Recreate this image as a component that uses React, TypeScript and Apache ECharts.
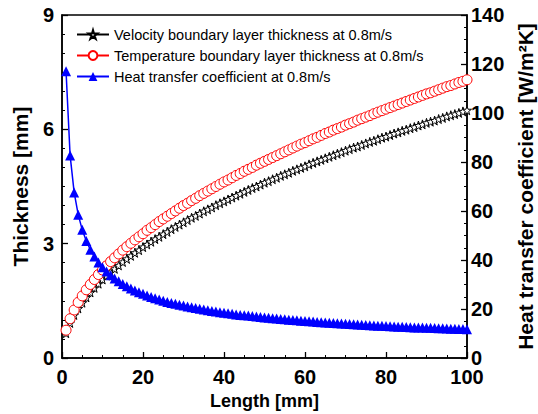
import React, { useEffect, useRef } from "react";
import * as echarts from "echarts";

const lengths = [
  1, 2, 3, 4, 5, 6, 7, 8, 9, 10, 11, 12, 13, 14, 15, 16, 17, 18, 19, 20,
  21, 22, 23, 24, 25, 26, 27, 28, 29, 30, 31, 32, 33, 34, 35, 36, 37, 38, 39, 40,
  41, 42, 43, 44, 45, 46, 47, 48, 49, 50, 51, 52, 53, 54, 55, 56, 57, 58, 59, 60,
  61, 62, 63, 64, 65, 66, 67, 68, 69, 70, 71, 72, 73, 74, 75, 76, 77, 78, 79, 80,
  81, 82, 83, 84, 85, 86, 87, 88, 89, 90, 91, 92, 93, 94, 95, 96, 97, 98, 99, 100,
];

const velocityThickness = [
  0.65, 0.92, 1.13, 1.3, 1.45, 1.59, 1.72, 1.84, 1.95, 2.06, 2.16, 2.25, 2.34, 2.43, 2.52, 2.6, 2.68, 2.76, 2.83, 2.91,
  2.98, 3.05, 3.12, 3.18, 3.25, 3.31, 3.38, 3.44, 3.5, 3.56, 3.62, 3.68, 3.73, 3.79, 3.85, 3.9, 3.95, 4.01, 4.06, 4.11,
  4.16, 4.21, 4.26, 4.31, 4.36, 4.41, 4.46, 4.5, 4.55, 4.6, 4.64, 4.69, 4.73, 4.78, 4.82, 4.86, 4.91, 4.95, 4.99, 5.03,
  5.08, 5.12, 5.16, 5.2, 5.24, 5.28, 5.32, 5.36, 5.4, 5.44, 5.48, 5.52, 5.55, 5.59, 5.63, 5.67, 5.7, 5.74, 5.78, 5.81,
  5.85, 5.89, 5.92, 5.96, 5.99, 6.03, 6.06, 6.1, 6.13, 6.17, 6.2, 6.23, 6.27, 6.3, 6.34, 6.37, 6.4, 6.43, 6.47, 6.5,
];

const temperatureThickness = [
  0.73, 1.03, 1.26, 1.46, 1.63, 1.79, 1.93, 2.06, 2.19, 2.31, 2.42, 2.53, 2.63, 2.73, 2.83, 2.92, 3.01, 3.1, 3.18, 3.26,
  3.35, 3.42, 3.5, 3.58, 3.65, 3.72, 3.79, 3.86, 3.93, 4.0, 4.06, 4.13, 4.19, 4.26, 4.32, 4.38, 4.44, 4.5, 4.56, 4.62,
  4.67, 4.73, 4.79, 4.84, 4.9, 4.95, 5.0, 5.06, 5.11, 5.16, 5.21, 5.26, 5.31, 5.36, 5.41, 5.46, 5.51, 5.56, 5.61, 5.65,
  5.7, 5.75, 5.79, 5.84, 5.89, 5.93, 5.98, 6.02, 6.06, 6.11, 6.15, 6.19, 6.24, 6.28, 6.32, 6.36, 6.41, 6.45, 6.49, 6.53,
  6.57, 6.61, 6.65, 6.69, 6.73, 6.77, 6.81, 6.85, 6.89, 6.93, 6.96, 7.0, 7.04, 7.08, 7.12, 7.15, 7.19, 7.23, 7.26, 7.3,
];

const heatTransferCoef = [
  117.0, 82.7, 67.6, 58.5, 52.3, 47.8, 44.2, 41.4, 39.0, 37.0, 35.3, 33.8, 32.4, 31.3, 30.2, 29.3, 28.4, 27.6, 26.8, 26.2,
  25.5, 24.9, 24.4, 23.9, 23.4, 22.9, 22.5, 22.1, 21.7, 21.4, 21.0, 20.7, 20.4, 20.1, 19.8, 19.5, 19.2, 19.0, 18.7, 18.5,
  18.3, 18.1, 17.8, 17.6, 17.4, 17.3, 17.1, 16.9, 16.7, 16.5, 16.4, 16.2, 16.1, 15.9, 15.8, 15.6, 15.5, 15.4, 15.2, 15.1,
  15.0, 14.9, 14.7, 14.6, 14.5, 14.4, 14.3, 14.2, 14.1, 14.0, 13.9, 13.8, 13.7, 13.6, 13.5, 13.4, 13.3, 13.2, 13.2, 13.1,
  13.0, 12.9, 12.8, 12.8, 12.7, 12.6, 12.5, 12.5, 12.4, 12.3, 12.3, 12.2, 12.1, 12.1, 12.0, 11.9, 11.9, 11.8, 11.8, 11.7,
];

const seriesNames = [
  "Velocity boundary layer thickness at 0.8m/s",
  "Temperature boundary layer thickness at 0.8m/s",
  "Heat transfer coefficient at 0.8m/s",
];

const STAR =
  "path://M50,0 L61,35 L98,35 L68,57 L79,91 L50,70 L21,91 L32,57 L2,35 L39,35 Z";

const FONT = "Liberation Sans, Arial, sans-serif";

export default function App() {
  const ref = useRef<HTMLDivElement>(null);

  useEffect(() => {
    if (!ref.current) return;
    const chart = echarts.init(ref.current, null, { renderer: "svg" });
    const pair = (ys: number[]) => lengths.map((x, i) => [x, ys[i]]);
    const axisLabel = {
      color: "#000",
      fontFamily: FONT,
      fontWeight: "bold" as const,
      fontSize: 20,
      lineHeight: 16,
    };
    const nameStyle = (size: number) => ({
      color: "#000",
      fontFamily: FONT,
      fontWeight: "bold" as const,
      fontSize: size,
    });
    chart.setOption({
      animation: false,
      backgroundColor: "#fff",
      grid: {
        left: 62,
        right: 71,
        top: 15,
        bottom: 56,
        show: true,
        borderColor: "#000",
        borderWidth: 1.5,
        backgroundColor: "transparent",
        outerBoundsMode: "none",
      },
      legend: {
        orient: "vertical",
        left: 71,
        top: 22,
        itemGap: 6,
        itemWidth: 32,
        itemHeight: 11,
        data: seriesNames,
        textStyle: { color: "#000", fontFamily: FONT, fontSize: 14.5 },
      },
      xAxis: {
        type: "value",
        min: 0,
        max: 100,
        interval: 20,
        name: "Length [mm]",
        nameLocation: "middle",
        nameGap: 34,
        nameTextStyle: nameStyle(18),
        axisLine: { lineStyle: { color: "#000", width: 1.5 } },
        axisTick: { inside: true, length: 6, lineStyle: { color: "#000", width: 1.3 } },
        minorTick: { show: true, splitNumber: 4, length: 3, lineStyle: { color: "#000", width: 1 } },
        axisLabel: { ...axisLabel, margin: 11 },
        splitLine: { show: false },
      },
      yAxis: [
        {
          type: "value",
          min: 0,
          max: 9,
          interval: 3,
          name: "Thickness [mm]",
          nameLocation: "middle",
          nameGap: 31,
          nameTextStyle: nameStyle(21),
          axisLine: { show: true, lineStyle: { color: "#000", width: 1.5 } },
          axisTick: { inside: true, length: 6, lineStyle: { color: "#000", width: 1.3 } },
          minorTick: { show: true, splitNumber: 6, length: 3, lineStyle: { color: "#000", width: 1 } },
          axisLabel: { ...axisLabel, margin: 8 },
          splitLine: { show: false },
        },
        {
          type: "value",
          min: 0,
          max: 140,
          interval: 20,
          position: "right",
          name: "Heat transfer coefficient [W/m²K]",
          nameLocation: "middle",
          nameGap: 47,
          nameRotate: 90,
          nameTextStyle: nameStyle(21),
          axisLine: { show: true, lineStyle: { color: "#000", width: 1.5 } },
          axisTick: { inside: true, length: 6, lineStyle: { color: "#000", width: 1.3 } },
          minorTick: { show: true, splitNumber: 4, length: 3, lineStyle: { color: "#000", width: 1 } },
          axisLabel: { ...axisLabel, margin: 4 },
          splitLine: { show: false },
        },
      ],
      series: [
        {
          name: seriesNames[0],
          type: "line",
          yAxisIndex: 0,
          data: pair(velocityThickness),
          symbol: STAR,
          symbolSize: 9,
          showAllSymbol: true,
          lineStyle: { color: "#000", width: 1 },
          itemStyle: { color: "#fff", borderColor: "#000", borderWidth: 1 },
        },
        {
          name: seriesNames[1],
          type: "line",
          yAxisIndex: 0,
          data: pair(temperatureThickness),
          symbol: "circle",
          symbolSize: 10,
          showAllSymbol: true,
          lineStyle: { color: "#ff0000", width: 1 },
          itemStyle: { color: "#fff", borderColor: "#ff0000", borderWidth: 1 },
        },
        {
          name: seriesNames[2],
          type: "line",
          yAxisIndex: 1,
          data: pair(heatTransferCoef),
          symbol: "triangle",
          symbolSize: 10,
          showAllSymbol: true,
          lineStyle: { color: "#0000ff", width: 1.5 },
          itemStyle: { color: "#0000ff" },
        },
      ],
    });
    return () => chart.dispose();
  }, []);

  return <div ref={ref} style={{ width: 538, height: 414, position: "absolute", left: 0, top: 0 }} />;
}
